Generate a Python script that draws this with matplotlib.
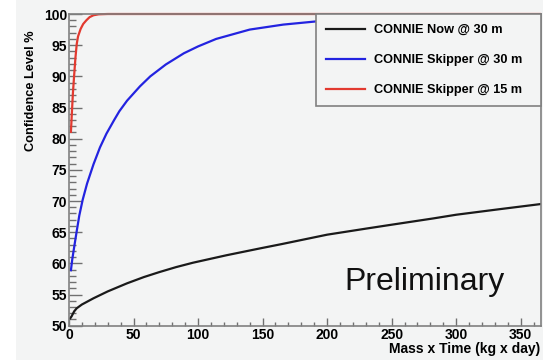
import matplotlib
matplotlib.use("Agg")
import matplotlib.pyplot as plt
from matplotlib.ticker import MultipleLocator
from matplotlib.patches import Rectangle

plt.rcParams['font.family'] = ['Liberation Sans', 'DejaVu Sans']

# Data
black_x = [1, 2, 4, 6, 10, 19, 30, 45, 58, 70, 83, 96, 122, 148, 165, 179, 200, 231, 250, 282,
           300, 334, 365]
black_y = [51.2, 51.5, 52.3, 52.8, 53.4, 54.4, 55.5, 56.8, 57.8, 58.6, 59.4, 60.1, 61.3, 62.4,
           63.1, 63.7, 64.6, 65.6, 66.2, 67.2, 67.8, 68.7, 69.5]

blue_x = [1.5, 2.5, 4, 6, 8, 10.6, 14, 19, 24, 29, 35, 39, 45, 55, 63, 75, 89, 100, 114, 140,
          166, 191, 220, 260, 300, 365]
blue_y = [58.9, 60.6, 62.6, 65.2, 67.7, 70.2, 72.8, 75.9, 78.6, 80.8, 83.0, 84.4, 86.1, 88.4,
          90.0, 91.9, 93.7, 94.8, 96.0, 97.5, 98.3, 98.8, 99.3, 99.6, 99.8, 99.95]

red_x = [1.5, 2.2, 3, 4, 5, 6, 7, 9, 11, 13.5, 16, 19, 23, 30, 365]
red_y = [81.1, 84.0, 87.2, 90.2, 93.0, 95.2, 96.4, 97.6, 98.4, 99.0, 99.5, 99.8, 99.95, 100, 100]

labels = ["CONNIE Now @ 30 m", "CONNIE Skipper @ 30 m", "CONNIE Skipper @ 15 m"]
colors = ["#1a1a1a", "#2323e0", "#e23a30"]

bg = "#f3f4f4"
fig = plt.figure(figsize=(5.43, 3.6), dpi=100, facecolor="white")
fig.patches.append(Rectangle((16 / 543, 0), 1, 1, transform=fig.transFigure,
                             facecolor=bg, edgecolor="none", zorder=-10))
ax = fig.add_axes([69 / 543, 34.3 / 360, 471.7 / 543, 311.7 / 360])
ax.set_facecolor(bg)

ax.plot(black_x, black_y, color=colors[0], lw=1.6, label=labels[0])
ax.plot(blue_x, blue_y, color=colors[1], lw=1.6, label=labels[1])
ax.plot(red_x, red_y, color=colors[2], lw=1.6, label=labels[2], clip_on=False)

ax.set_xlim(0, 365.5)
ax.set_ylim(50, 100)
ax.xaxis.set_major_locator(MultipleLocator(50))
ax.xaxis.set_minor_locator(MultipleLocator(10))
ax.yaxis.set_major_locator(MultipleLocator(5))
ax.yaxis.set_minor_locator(MultipleLocator(1))

for s in ax.spines.values():
    s.set_color("#808080")
    s.set_linewidth(1.2)

ax.tick_params(axis='both', which='both', direction='in', color='#707070', width=1.0)
ax.tick_params(axis='y', which='major', length=9.4, pad=1.5)
ax.tick_params(axis='y', which='minor', length=5)
ax.tick_params(axis='x', which='major', length=5.8, pad=2)
ax.tick_params(axis='x', which='minor', length=2.9)
for lab in ax.get_xticklabels() + ax.get_yticklabels():
    lab.set_fontweight('bold')
    lab.set_fontsize(10)

ax.set_ylabel("Confidence Level %", fontsize=9.2, fontweight='bold')
ax.yaxis.label.set_va('center')
ax.yaxis.set_label_coords(-0.0795, 0.755)
ax.set_xlabel("Mass x Time (kg x day)", fontsize=10, fontweight='bold', loc='right')
ax.xaxis.label.set_va('center')
ax.xaxis.set_label_coords(1.0, -0.075)

ax.text(0.754, 0.14, "Preliminary", transform=ax.transAxes, fontsize=23,
        ha='center', va='center', color='#111111')

leg = ax.legend(loc='upper left', bbox_to_anchor=(0.523, 0.705, 0.477, 0.295),
                mode='expand', borderaxespad=0, frameon=True, fancybox=False,
                prop={'weight': 'bold', 'size': 9.2}, handlelength=3.05,
                labelspacing=1.41, borderpad=0.8, handletextpad=0.7)
leg.get_frame().set_edgecolor('#808080')
leg.get_frame().set_facecolor(bg)
leg.get_frame().set_alpha(1)
leg.get_frame().set_linewidth(1.2)

fig.savefig("out.png", dpi=100, facecolor=fig.get_facecolor())
